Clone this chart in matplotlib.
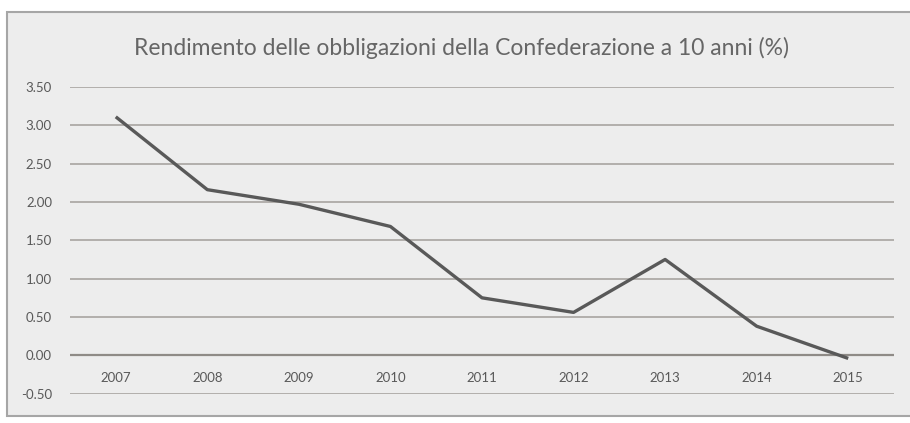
import matplotlib
matplotlib.use('Agg')
import matplotlib.pyplot as plt
from matplotlib.patches import Rectangle
from matplotlib.ticker import FormatStrFormatter

# dati
anni = ['2007', '2008', '2009', '2010', '2011', '2012', '2013', '2014', '2015']
rendimento = [3.11, 2.16, 1.97, 1.68, 0.75, 0.56, 1.25, 0.38, -0.04]
y_ticks = [-0.5, 0.0, 0.5, 1.0, 1.5, 2.0, 2.5, 3.0, 3.5]
titolo = 'Rendimento delle obbligazioni della Confederazione a 10 anni (%)'

plt.rcParams['font.family'] = ['Lato', 'DejaVu Sans']
testo = '#595959'
griglia = '#a29e9a'

W, H = 910, 423
fig = plt.figure(figsize=(W / 100, H / 100), dpi=100)
fig.patch.set_facecolor('white')

# riquadro del grafico (sfondo grigio chiaro), sotto gli assi
fig.patches.append(Rectangle((7 / W, 1 - 416 / H), 920 / W, (416 - 12) / H,
                             transform=fig.transFigure, facecolor='#ededed',
                             edgecolor='#a6a6a6', linewidth=1.5, zorder=-5))

fig.text(462 / W, 1 - 48 / H, titolo, ha='center', va='center',
         fontsize=16.5, color='#666666')

ax = fig.add_axes([70 / W, 1 - 393.7 / H, (894 - 70) / W, (393.7 - 86.9) / H])
ax.set_facecolor('none')

x = list(range(len(anni)))
ax.plot(x, rendimento, color='#595959', linewidth=2.4, solid_capstyle='butt',
        zorder=3)

ax.set_xlim(-0.5, len(anni) - 0.5)
ax.set_ylim(-0.5, 3.5)
ax.set_yticks(y_ticks)
ax.yaxis.set_major_formatter(FormatStrFormatter('%.2f'))
ax.set_xticks(x)
ax.set_xticklabels(anni)

ax.grid(axis='y', color=griglia, linewidth=1.1, zorder=1)
ax.axhline(0, color='#8f8b87', linewidth=1.6, zorder=2)

for s in ax.spines.values():
    s.set_visible(False)
ax.spines['bottom'].set_position(('data', 0))
ax.tick_params(axis='y', length=0, pad=13, labelsize=9.5, labelcolor=testo)
ax.tick_params(axis='x', length=0, pad=12, labelsize=9.5, labelcolor=testo)

fig.savefig('out.png', dpi=100)
